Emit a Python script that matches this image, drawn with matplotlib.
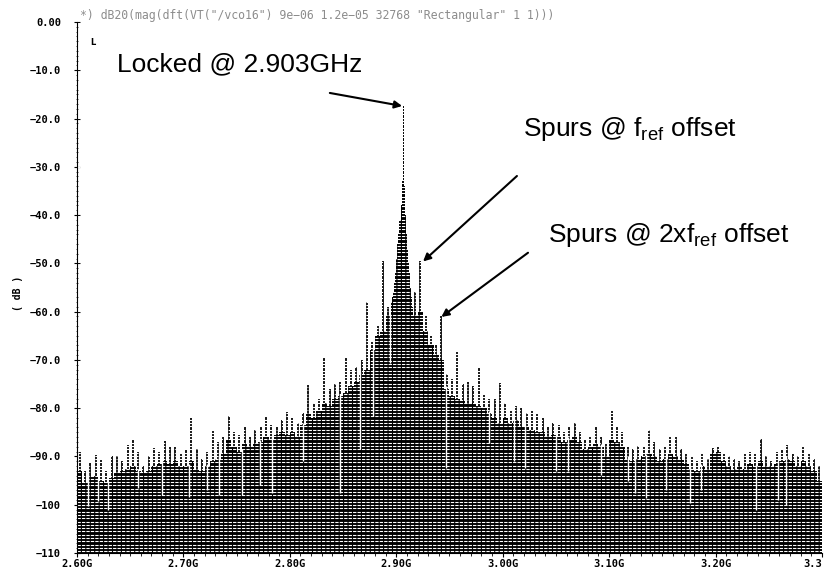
import numpy as np
import matplotlib
matplotlib.use('Agg')
import matplotlib.pyplot as plt
from matplotlib.ticker import MultipleLocator, FixedLocator

plt.rcParams['mathtext.fontset'] = 'custom'
plt.rcParams['mathtext.rm'] = 'Liberation Sans'

# spectrum: 5 MHz bins from 2.600 GHz
f_start = 2.600
f_step = 0.005
body_db = [
    -93, -95.5, -94, -94, -95, -95.5, -94.5, -93.5, -93, -92.5,
    -92, -93, -93.5, -93, -92, -91.5, -91, -91.5, -91, -92,
    -92, -91, -92.5, -93, -92, -91, -90.5, -89.5, -86.5, -88,
    -89, -87.5, -88, -87.5, -87, -86, -86.5, -85.5, -85, -85.5,
    -85, -86, -83.5, -81, -82, -80.5, -79, -79.5, -78, -77.5,
    -76.8, -75.5, -74.5, -73, -72, -68, -65, -64, -61, -58,
    -58, -58, -58, -61, -60, -64, -67, -69, -70, -76,
    -77.5, -78, -78.5, -79, -79, -79.5, -80, -81, -82, -83,
    -82, -83, -82.5, -84, -84, -84.5, -85, -85, -86, -85.5,
    -86, -87, -86.5, -86, -87, -88.5, -88, -87.5, -88, -90,
    -86.5, -87, -88, -90.5, -91, -90.5, -90, -89.5, -90, -91,
    -90.5, -89.5, -90, -90.5, -91.5, -92.5, -93, -92, -92.5, -89.5,
    -89, -91, -92, -92.5, -92, -92.5, -91.5, -92, -91, -92,
    -92, -91.5, -91, -90.5, -91, -92, -91, -92, -93, -95,
]
spike_db = [
    -89, -93, -91.3, -89.6, -90.7, -93, -90, -90, -91, -87.6,
    -86.5, -89, -92, -90, -88.2, -89, -86.9, -88, -88, -89.5,
    -88.5, -82, -88.5, -90.5, -89, -84.5, -87, -86, -81.7, -85,
    -85.5, -83.8, -86, -84.5, -84, -81.7, -83.5, -84, -82.5, -80.7,
    -82, -83, -81, -75.2, -79, -78, -69.3, -76, -75, -74.5,
    -69.3, -72, -71.5, -70, -57.9, -66, -63, -49.6, -59, -56,
    -58, -58, -58, -56, -49.5, -61, -65, -67, -61, -73,
    -74, -68.3, -75, -74.5, -75.5, -71.4, -77, -78, -78, -74.8,
    -79, -80.5, -79.6, -80, -81, -80.5, -81, -82, -83.8, -83,
    -83.5, -85, -84, -83, -85, -86.5, -86, -83.8, -86, -87.5,
    -80.3, -83.8, -85, -88, -88.5, -87.9, -88, -84.5, -87, -88.5,
    -88, -85.8, -86, -88.5, -89.5, -90, -91, -89.3, -90.5, -88.2,
    -88, -89.5, -90, -90.5, -91, -89.5, -89, -89.5, -86.4, -90,
    -91, -89, -88.6, -87.6, -89.5, -90, -88, -89.5, -90.5, -92,
]

# carrier core, 1 MHz bins from 2.895 GHz
core_start = 2.895
core_step = 0.001
core_db = [-58, -57, -56, -54, -52, -49, -46, -44, -41, -38, -33,
           -17.5, -34, -40, -44, -47, -50, -52, -55, -57, -59]

# thin gaps in the noise floor
notch_f = [2.6105, 2.620, 2.629, 2.657, 2.680, 2.705, 2.7218, 2.7335,
           2.7546, 2.772, 2.783, 2.812, 2.847, 2.8657, 2.878, 2.894,
           2.947, 2.987, 3.011, 3.0207, 3.0504, 3.061, 3.0927, 3.1177,
           3.124, 3.135, 3.1537, 3.1756, 3.1866, 3.238, 3.2585, 3.2664]
notch_db = [-100.3, -99.3, -101, -96.6, -98, -98.4, -97, -98,
            -98, -96, -97.5, -91, -97.5, -88.5, -81.6, -70.6,
            -92.4, -87.2, -91, -92.4, -93, -93, -93.8, -95,
            -97.5, -98.6, -97, -99.7, -97, -101, -99, -100]

xticks = [2.6, 2.7, 2.8, 2.9, 3.0, 3.1, 3.2, 3.3]
xticklabels = ['2.60G', '2.70G', '2.80G', '2.90G', '3.00G', '3.10G', '3.20G', '3.3']
yticks = [0, -10, -20, -30, -40, -50, -60, -70, -80, -90, -100, -110]
yticklabels = ['0.00', '\u221210.0', '\u221220.0', '\u221230.0', '\u221240.0', '\u221250.0',
               '\u221260.0', '\u221270.0', '\u221280.0', '\u221290.0', '\u2212100', '\u2212110']

fig = plt.figure(figsize=(8.26, 5.73), dpi=100)
ax = fig.add_axes([0.0932, 0.0349, 0.9019, 0.9267])

body = np.array(body_db)
edges = f_start + f_step * np.arange(len(body) + 1)
centers = edges[:-1] + f_step / 2
ax.stairs(body, edges, baseline=-110, fill=True, color='black', zorder=2)
ax.vlines(centers, -110, spike_db, color='black', lw=1.3, zorder=2)

core_edges = core_start + core_step * np.arange(len(core_db) + 1)
ax.stairs(core_db, core_edges, baseline=-110, fill=True, color='black', zorder=2)

idx = ((np.array(notch_f) - f_start) / f_step).astype(int)
ax.vlines(notch_f, notch_db, body[idx] + 0.5, color='white', lw=1.0, zorder=2.1)

# scan stripes
stripes = np.arange(-109.6, 0, 0.68)
ax.hlines(stripes, 2.6, 3.3, color='white', lw=0.8, linestyles=(0, (3, 1)), zorder=2.2)

ax.set_xlim(2.6, 3.3)
ax.set_ylim(-110, 0)
for s in ['top', 'right']:
    ax.spines[s].set_visible(False)
ax.spines['left'].set_linewidth(0.8)
ax.spines['bottom'].set_linewidth(0.8)
ax.spines['left'].set_zorder(3)

ax.xaxis.set_major_locator(FixedLocator(xticks))
ax.set_xticklabels(xticklabels, family='DejaVu Sans Mono', fontweight='bold', fontsize=7.5)
ax.get_xticklabels()[-1].set_ha('right')
ax.xaxis.set_minor_locator(MultipleLocator(0.01))
ax.yaxis.set_major_locator(FixedLocator(yticks))
ax.set_yticklabels(yticklabels, family='DejaVu Sans Mono', fontweight='bold', fontsize=7.5)
ax.yaxis.set_minor_locator(MultipleLocator(1))
ax.tick_params(axis='x', which='major', length=3, width=0.8, pad=1)
ax.tick_params(axis='x', which='minor', length=2, width=0.6)
ax.tick_params(axis='y', which='major', direction='inout', length=5, width=0.8, pad=9)
ax.tick_params(axis='y', which='minor', direction='inout', length=2, width=0.5)

fig.text(18 / 826, 1 - 293 / 573, '( dB )', rotation=90, ha='center', va='center',
         family='DejaVu Sans Mono', fontweight='bold', fontsize=7)
fig.text(80 / 826, 1 - 15 / 573,
         '*) dB20(mag(dft(VT("/vco16") 9e\u221206 1.2e\u221205 32768 "Rectangular" 1 1)))',
         ha='left', va='center', family='DejaVu Sans Mono', fontsize=8.3, color='#8c8c8c')

ax.text(2.615, -4.3, 'L', ha='center', va='center', fontsize=6, fontweight='bold')

tfont = dict(family='Liberation Sans', fontsize=19, color='black', zorder=5)
ax.text(2.6373, -10.3, 'Locked @ 2.903GHz', ha='left', va='baseline', **tfont)
ax.text(3.0191, -23.7, r'Spurs @ f$_{\mathrm{ref}}$ offset', ha='left', va='baseline', **tfont)
ax.text(3.0425, -45.5, r'Spurs @ 2xf$_{\mathrm{ref}}$ offset', ha='left', va='baseline', **tfont)

aprops = dict(arrowstyle='-|>', color='black', lw=1.5, mutation_scale=11,
              shrinkA=0, shrinkB=0)
ax.annotate('', xy=(2.9055, -17.4), xytext=(2.8376, -14.7), arrowprops=aprops, zorder=5)
ax.annotate('', xy=(2.9252, -49.6), xytext=(3.0134, -31.9), arrowprops=aprops, zorder=5)
ax.annotate('', xy=(2.9424, -61.1), xytext=(3.0238, -47.8), arrowprops=aprops, zorder=5)

fig.savefig('out.png', dpi=100)
